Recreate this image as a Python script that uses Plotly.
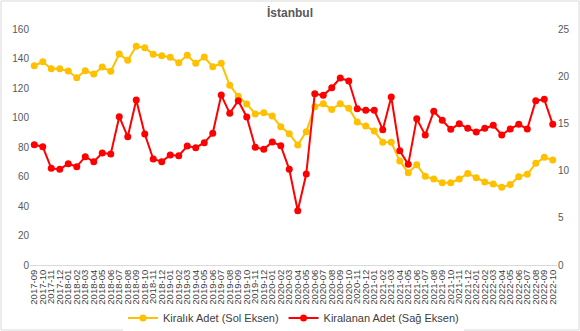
import plotly.graph_objects as go

months = []
y, m = 2017, 9
for _ in range(62):
    months.append(f"{y}-{m:02d}")
    m += 1
    if m > 12:
        m = 1
        y += 1

kiralik = [135.1, 137.8, 133.1, 133.1, 131.5, 127.0, 131.7, 129.5, 134.2, 131.3,
           143.0, 138.8, 148.3, 147.3, 142.8, 141.9, 140.8, 137.2, 142.2, 136.7,
           141.0, 134.4, 136.7, 121.8, 114.4, 109.2, 102.4, 103.3, 101.0, 93.8,
           89.0, 81.4, 90.4, 107.3, 109.4, 105.5, 109.4, 106.2, 96.9, 94.2,
           90.8, 83.2, 83.2, 70.5, 62.6, 68.0, 60.1, 58.3, 55.8, 55.8,
           58.3, 62.1, 59.2, 56.3, 54.9, 52.7, 54.5, 59.9, 61.5, 68.9,
           73.0, 71.2]

kiralanan = [12.74, 12.53, 10.24, 10.13, 10.73, 10.42, 11.47, 10.95, 11.86, 11.76,
             15.71, 13.58, 17.48, 13.88, 11.23, 10.95, 11.65, 11.58, 12.60, 12.43,
             12.96, 13.95, 18.00, 16.07, 17.40, 15.68, 12.47, 12.25, 13.03, 12.64,
             10.13, 5.75, 9.64, 18.15, 17.97, 18.78, 19.81, 19.49, 16.56, 16.38,
             16.38, 14.33, 17.80, 12.11, 10.66, 15.50, 13.76, 16.28, 15.33, 14.37,
             14.97, 14.48, 14.09, 14.48, 14.80, 13.77, 14.41, 14.90, 14.41, 17.40,
             17.55, 14.90]

title = "İstanbul"
name1 = "Kiralık Adet (Sol Eksen)"
name2 = "Kiralanan Adet (Sağ Eksen)"

font_family = "Liberation Sans, Arial, sans-serif"
gray = "#595959"

fig = go.Figure()
fig.add_trace(go.Scatter(x=months, y=kiralik, name=name1, mode="lines+markers",
                         line=dict(color="#FFC000", width=2),
                         marker=dict(color="#FFC000", size=7)))
fig.add_trace(go.Scatter(x=months, y=kiralanan, name=name2, mode="lines+markers",
                         yaxis="y2",
                         line=dict(color="#FF0000", width=2),
                         marker=dict(color="#FF0000", size=7)))

fig.update_layout(
    width=580, height=331,
    margin=dict(l=30, r=23, t=29, b=66, autoexpand=False),
    paper_bgcolor="white", plot_bgcolor="white",
    font=dict(family=font_family, color=gray),
    title=dict(text=f"<b>{title}</b>", x=0.5, xanchor="center", y=0.96, yanchor="middle",
               font=dict(size=12, color=gray)),
    xaxis=dict(type="category", tickangle=-90, showgrid=False, automargin=False,
               tickmode="linear", tick0=0, dtick=1,
               showline=True, linecolor="#d9d9d9", linewidth=1,
               tickfont=dict(size=9.5, color="#404040"), ticks="", ticklabelstandoff=0,
               range=[-0.5, 61.5]),
    yaxis=dict(range=[0, 160], dtick=20, showgrid=False, zeroline=False, automargin=False,
               tickfont=dict(size=10, color=gray), ticks=""),
    yaxis2=dict(range=[0, 25], dtick=5, overlaying="y", side="right", automargin=False,
                showgrid=False, zeroline=False,
                tickfont=dict(size=10, color=gray), ticks=""),
    legend=dict(orientation="h", x=0.5, xanchor="center",
                yref="container", y=(331 - 318) / 331, yanchor="middle",
                font=dict(size=11, color="#404040"), itemwidth=30),
    showlegend=True,
)

fig.add_shape(type="rect", xref="paper", yref="paper",
              x0=(1 - 30) / 527, x1=(579 - 30) / 527,
              y0=(265 - 330) / 236, y1=(265 - 1) / 236,
              line=dict(color="#d9d9d9", width=1), fillcolor="rgba(0,0,0,0)", layer="below")

fig.write_html("out.html")
